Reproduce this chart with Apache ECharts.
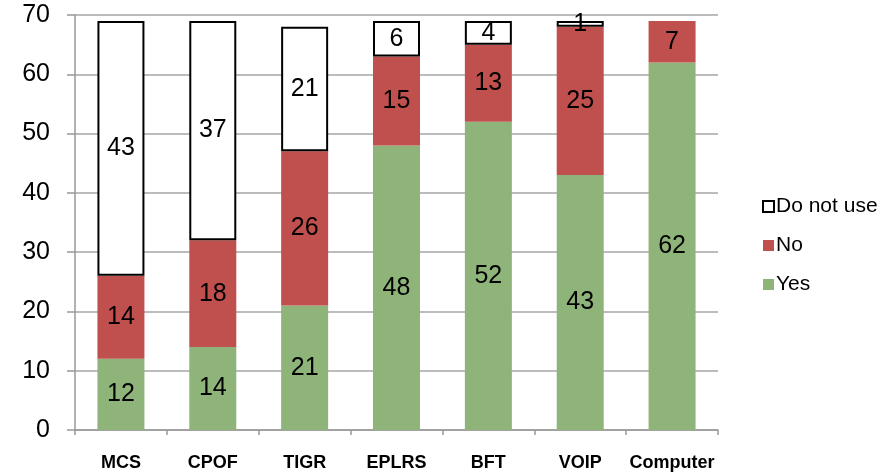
<!DOCTYPE html>
<html><head><meta charset="utf-8">
<script src="https://cdn.jsdelivr.net/npm/echarts@6/dist/echarts.min.js"></script>
<style>html,body{margin:0;padding:0;background:#fff}#c{width:893px;height:473px}</style>
</head><body><div id="c"></div>
<script>
var categories = ['MCS', 'CPOF', 'TIGR', 'EPLRS', 'BFT', 'VOIP', 'Computer'];
var yesValues = [12, 14, 21, 48, 52, 43, 62];
var noValues = [14, 18, 26, 15, 13, 25, 7];
var notUseValues = [43, 37, 21, 6, 4, 1, null];
var yTicks = [0, 10, 20, 30, 40, 50, 60, 70];

var chart = echarts.init(document.getElementById('c'), null, {renderer: 'canvas'});
var font = 'Arial, "Liberation Sans", sans-serif';
var lbl = {show: true, position: 'inside', color: '#000', fontSize: 25, fontFamily: font};
chart.setOption({
  animation: false,
  backgroundColor: '#fff',
  grid: {left: 75, right: 175, top: 15, bottom: 43, containLabel: false},
  legend: {
    orient: 'vertical', left: 757, top: 191, itemGap: 18,
    itemWidth: 11, itemHeight: 11, icon: 'rect',
    textStyle: {fontSize: 21, fontFamily: font, color: '#000', padding: [0, 0, 0, -3]},
    data: ['Do not use', 'No', 'Yes']
  },
  xAxis: {
    type: 'category', data: categories,
    axisLine: {lineStyle: {color: '#999', width: 1.5}},
    axisTick: {show: true, length: 5, lineStyle: {color: '#999', width: 1.5}},
    axisLabel: {interval: 0, margin: 24, fontSize: 18, fontWeight: 'bold', color: '#000', fontFamily: font}
  },
  yAxis: {
    type: 'value', min: yTicks[0], max: yTicks[yTicks.length - 1], interval: 10,
    axisLine: {show: true, lineStyle: {color: '#999', width: 1.5}},
    axisTick: {show: true, length: 8, lineStyle: {color: '#999', width: 1.5}},
    splitLine: {lineStyle: {color: '#A6A6A6', width: 1.5}},
    axisLabel: {margin: 25, fontSize: 25, color: '#000', fontFamily: font}
  },
  series: [
    {name: 'Yes', type: 'bar', stack: 's', barWidth: 47, data: yesValues,
     itemStyle: {color: '#8FB47A'}, label: lbl},
    {name: 'No', type: 'bar', stack: 's', barWidth: 47, data: noValues,
     itemStyle: {color: '#C0504D'}, label: lbl},
    {name: 'Do not use', type: 'bar', stack: 's', barWidth: 47, data: notUseValues,
     itemStyle: {color: '#fff', borderColor: '#000', borderWidth: 2}, label: lbl}
  ]
});
</script></body></html>
